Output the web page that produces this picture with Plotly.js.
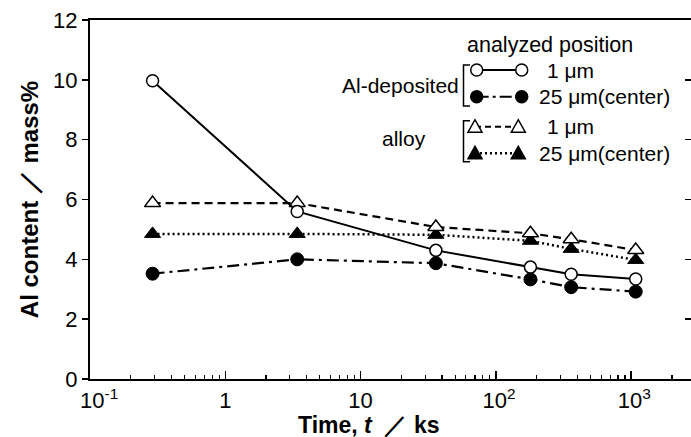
<!DOCTYPE html>
<html>
<head>
<meta charset="utf-8">
<script src="https://cdn.plot.ly/plotly-3.0.1.min.js"></script>
<style>html,body{margin:0;padding:0;background:#fff;}#chart{width:691px;height:437px;}</style>
</head>
<body>
<div id="chart"></div>
<script>
// ---- data ----
const times = [0.29, 3.4, 36, 180, 360, 1080];          // Time, t / ks
const deposited1um = [9.97, 5.6, 4.3, 3.74, 3.5, 3.34];  // Al-deposited, 1 μm
const deposited25um = [3.52, 4.0, 3.87, 3.33, 3.07, 2.92]; // Al-deposited, 25 μm(center)
const alloy1um = [5.88, 5.88, 5.08, 4.87, 4.67, 4.31];   // alloy, 1 μm
const alloy25um = [4.85, 4.85, 4.82, 4.62, 4.35, 3.98];  // alloy, 25 μm(center)
const xTickVals = [0.1, 1, 10, 100, 1000];
const xTickText = ['\u00a0\u00a0\u00a010<sup>-1</sup>', '1', '10', '\u00a010<sup>2</sup>', '\u00a010<sup>3</sup>'];
const yTickVals = [0, 2, 4, 6, 8, 10, 12];
const xTitle = 'Time, <i>t</i>\u00a0\u00a0\uff0f\u00a0ks';
const yTitle = 'Al content \uff0f mass%';
const legendTitle = 'analyzed position';
const groupLabels = ['Al-deposited', 'alloy'];
const posLabels = ['1 \u03bcm', '25 \u03bcm(center)'];

// ---- layout helpers ----
const L = 90, T = 20, W = 601, H = 359;
const X = px => (px - L) / W;
const Y = py => (T + H - py) / H;
const FONT = 'Liberation Sans, Arial, Helvetica, sans-serif';

const traces = [
  {x: times, y: alloy25um, mode: 'lines+markers', name: 'alloy 25 μm(center)',
   line: {color: '#000', width: 2.5, dash: '2px,3px'},
   marker: {symbol: 'triangle-up', size: 14, color: '#000', line: {color: '#000', width: 1}}},
  {x: times, y: alloy1um, mode: 'lines+markers', name: 'alloy 1 μm',
   line: {color: '#000', width: 2.2, dash: '8px,5px'},
   marker: {symbol: 'triangle-up', size: 14, color: '#fff', line: {color: '#000', width: 1.5}}},
  {x: times, y: deposited25um, mode: 'lines+markers', name: 'Al-deposited 25 μm(center)',
   line: {color: '#000', width: 2.2, dash: '12px,5px,3px,5px'},
   marker: {symbol: 'circle', size: 13, color: '#000', line: {color: '#000', width: 1}}},
  {x: times, y: deposited1um, mode: 'lines+markers', name: 'Al-deposited 1 μm',
   line: {color: '#000', width: 2},
   marker: {symbol: 'circle', size: 12, color: '#fff', line: {color: '#000', width: 1.5}}},
  {x: [times[0]], y: [0], yaxis: 'y2', mode: 'markers', showlegend: false, hoverinfo: 'skip',
   marker: {opacity: 0}}
];

// legend decoration
const shapes = [];
const annotations = [];
const lineStyles = [
  {dash: 'solid', width: 2},
  {dash: '12px,4px,3px,4px', width: 2},
  {dash: '6px,4px', width: 2},
  {dash: '2px,3px', width: 2.5}
];
const rows = [
  {y: 70, xl: 476.7, xr: 521.7, sym: 'circle', fill: '#fff', tx: 545},
  {y: 96.7, xl: 476.7, xr: 521.7, sym: 'circle', fill: '#000', tx: 537},
  {y: 126.7, xl: 475, xr: 518.3, sym: 'tri', fill: '#fff', tx: 545},
  {y: 153.3, xl: 475, xr: 518.3, sym: 'tri', fill: '#000', tx: 537}
];
rows.forEach((r, i) => {
  shapes.push({type: 'line', xref: 'paper', yref: 'paper', x0: X(r.xl), x1: X(r.xr), y0: Y(r.y), y1: Y(r.y),
    line: {color: '#000', width: lineStyles[i].width, dash: lineStyles[i].dash}});
  [r.xl, r.xr].forEach(xx => {
    if (r.sym === 'circle') {
      shapes.push({type: 'circle', xref: 'paper', yref: 'paper', xsizemode: 'pixel', ysizemode: 'pixel',
        xanchor: X(xx), yanchor: Y(r.y), x0: -6, x1: 6, y0: -6, y1: 6,
        fillcolor: r.fill, line: {color: '#000', width: 1.5}});
    } else {
      shapes.push({type: 'path', xref: 'paper', yref: 'paper', xsizemode: 'pixel', ysizemode: 'pixel',
        xanchor: X(xx), yanchor: Y(r.y), path: 'M -7 -5.5 L 7 -5.5 L 0 7 Z',
        fillcolor: r.fill, line: {color: '#000', width: 1.5}});
    }
  });
  annotations.push({xref: 'paper', yref: 'paper', x: X(r.tx), y: Y(r.y), xanchor: 'left', yanchor: 'middle',
    showarrow: false, text: posLabels[i % 2], font: {family: FONT, size: 21, color: '#000'}});
});
// brackets
[[65, 106], [120.7, 161.7]].forEach(b => {
  shapes.push({type: 'path', xref: 'paper', yref: 'paper',
    path: `M ${X(470)} ${Y(b[0])} L ${X(463.5)} ${Y(b[0])} L ${X(463.5)} ${Y(b[1])} L ${X(470)} ${Y(b[1])}`,
    line: {color: '#000', width: 1.5}});
});
annotations.push({xref: 'paper', yref: 'paper', x: X(465), y: Y(45), xanchor: 'left', yanchor: 'middle',
  showarrow: false, text: legendTitle, font: {family: FONT, size: 21.5, color: '#000'}});
annotations.push({xref: 'paper', yref: 'paper', x: X(461), y: Y(85), xanchor: 'right', yanchor: 'middle',
  showarrow: false, text: groupLabels[0], font: {family: FONT, size: 21, color: '#000'}});
annotations.push({xref: 'paper', yref: 'paper', x: X(380), y: Y(138), xanchor: 'left', yanchor: 'middle',
  showarrow: false, text: groupLabels[1], font: {family: FONT, size: 21, color: '#000'}});
// x-axis title (placed as annotation so it sits where the reference has it)
annotations.push({xref: 'paper', yref: 'paper', x: X(368), y: Y(425), xanchor: 'center', yanchor: 'middle',
  showarrow: false, text: xTitle, font: {family: FONT, size: 23, weight: 'bold', color: '#000'}});

const layout = {
  width: 691, height: 437,
  margin: {l: L, r: 0, t: T, b: 437 - T - H, pad: 0},
  paper_bgcolor: '#fff', plot_bgcolor: '#fff',
  showlegend: false,
  font: {family: FONT, size: 22, color: '#000'},
  xaxis: {
    type: 'log', range: [-1, 3.442], tickvals: xTickVals, ticktext: xTickText,
    ticks: 'inside', ticklen: 8, tickwidth: 1.5, tickcolor: '#000',
    minor: {dtick: 'D1', ticks: 'inside', ticklen: 4, tickwidth: 1.2, tickcolor: '#000', showgrid: false},
    showline: true, linecolor: '#000', linewidth: 2, mirror: true,
    showgrid: false, zeroline: false, ticklabelstandoff: 1,
    tickfont: {family: FONT, size: 22}
  },
  yaxis: {
    range: [0, 12], tickvals: yTickVals, ticks: 'outside', ticklen: 6, tickwidth: 1.5, tickcolor: '#000',
    showline: true, linecolor: '#000', linewidth: 2, mirror: false,
    showgrid: false, zeroline: false, tickfont: {family: FONT, size: 22},
    title: {text: yTitle, font: {family: FONT, size: 24, weight: 'bold'}, standoff: 8}
  },
  yaxis2: {
    overlaying: 'y', side: 'right', range: [0, 12], tickvals: yTickVals, ticks: 'inside', ticklen: 6,
    tickwidth: 1.5, tickcolor: '#000', showticklabels: false, showgrid: false, zeroline: false, showline: false
  },
  shapes: shapes,
  annotations: annotations
};

Plotly.newPlot('chart', traces, layout, {displayModeBar: false, staticPlot: true});
</script>
</body>
</html>
